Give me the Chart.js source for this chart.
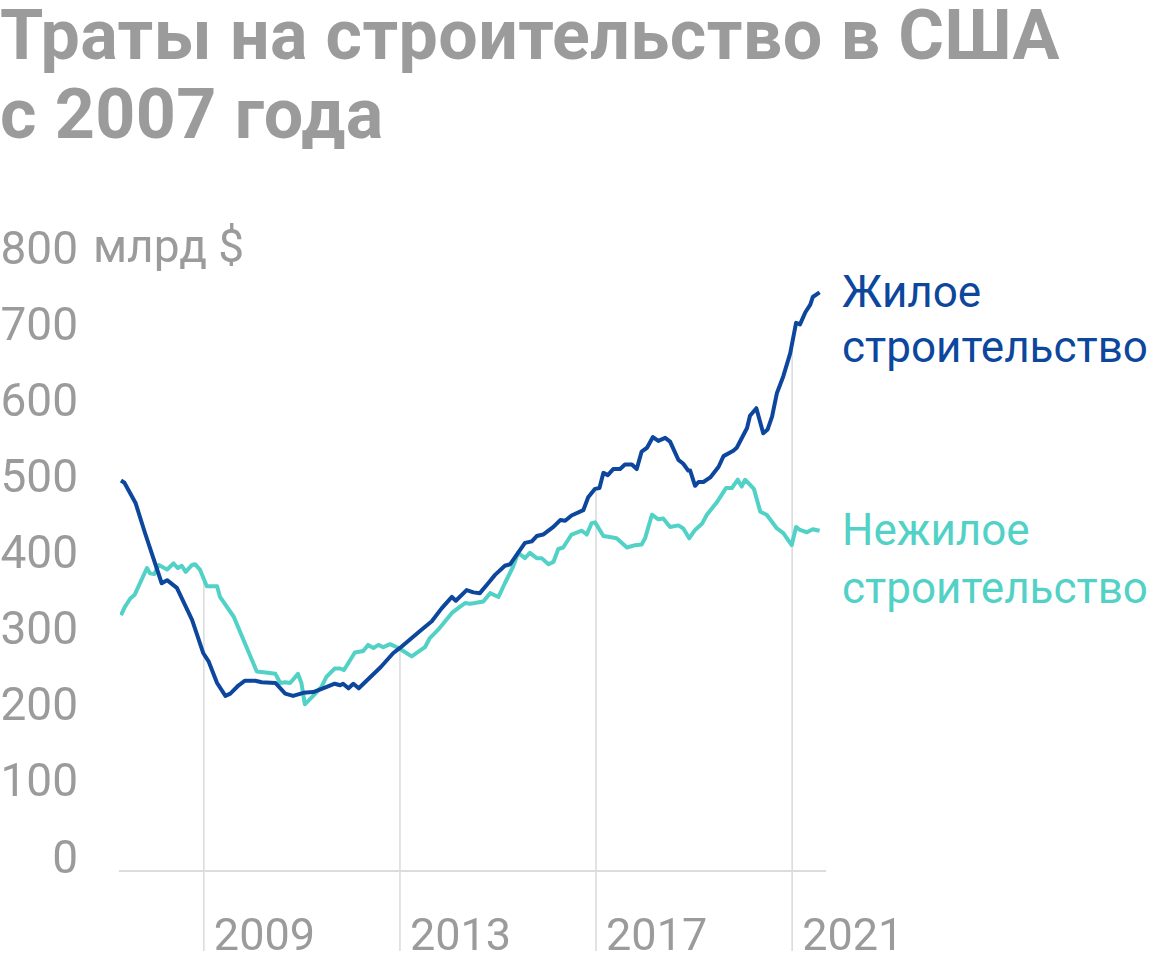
<!DOCTYPE html>
<html lang="ru">
<head>
<meta charset="utf-8">
<script src="https://cdn.jsdelivr.net/npm/chart.js@4.4.1/dist/chart.umd.min.js"></script>
<style>
  html, body { margin: 0; padding: 0; background: #fff; }
  body { width: 1160px; height: 968px; position: relative; overflow: hidden; font-family: Roboto, "Noto Sans", sans-serif; }
  #chart { position: absolute; left: 0; top: 0; }
  .title { position: absolute; left: 0; top: -4px; font-weight: 700; font-size: 70px; line-height: 79px; letter-spacing: 0.4px; color: #9b9b9b; white-space: nowrap; }
  .lbl { position: absolute; left: 842px; font-size: 44px; white-space: nowrap; }
  .res { top: 265px; line-height: 55px; color: #0c479d; }
  .non { top: 501px; line-height: 58px; color: #52d1c6; }
</style>
</head>
<body>
<div class="title">Траты на строительство в США<br>с 2007 года</div>
<div class="lbl res">Жилое<br>строительство</div>
<div class="lbl non">Нежилое<br>строительство</div>
<canvas id="chart" width="1160" height="968"></canvas>
<script>
// ===============================
//  ДАННЫЕ (млрд $, по годам)
// ===============================
const resYears = [2007.31, 2007.38, 2007.61, 2007.80, 2008.14, 2008.25, 2008.45, 2008.76, 2008.99, 2009.10,
  2009.27, 2009.44, 2009.54, 2009.71, 2009.84, 2010.05, 2010.18, 2010.46, 2010.66, 2010.82,
  2011.03, 2011.23, 2011.47, 2011.67, 2011.78, 2011.84, 2011.95, 2012.05, 2012.16, 2012.61,
  2012.86, 2013.00, 2013.44, 2013.65, 2013.85, 2014.06, 2014.14, 2014.36, 2014.50, 2014.63,
  2014.80, 2014.94, 2015.14, 2015.25, 2015.55, 2015.69, 2015.79, 2015.92, 2016.13, 2016.27,
  2016.37, 2016.50, 2016.74, 2016.84, 2016.98, 2017.07, 2017.15, 2017.24, 2017.35, 2017.49,
  2017.59, 2017.73, 2017.83, 2017.93, 2018.04, 2018.16, 2018.27, 2018.41, 2018.51, 2018.68,
  2018.78, 2018.88, 2018.92, 2019.02, 2019.09, 2019.19, 2019.33, 2019.50, 2019.60, 2019.80,
  2019.87, 2020.08, 2020.14, 2020.27, 2020.41, 2020.50, 2020.59, 2020.69, 2020.82, 2020.96,
  2021.08, 2021.16, 2021.27, 2021.37, 2021.42, 2021.56];
const resValues = [513, 510, 483, 444, 378, 382, 372, 330, 286, 275,
  247, 230, 233, 244, 250, 250, 248, 247, 233, 230,
  234, 235, 241, 246, 244, 246, 240, 246, 240, 268,
  286, 293, 317, 328, 345, 360, 355, 369, 366, 365,
  378, 389, 401, 403, 431, 433, 440, 442, 452, 461,
  460, 467, 474, 491, 502, 503, 523, 520, 528, 528,
  534, 534, 528, 551, 556, 570, 565, 569, 564, 540,
  535, 526, 526, 506, 511, 511, 517, 531, 545, 552,
  556, 582, 598, 608, 575, 580, 597, 628, 650, 680,
  720, 718, 734, 744, 754, 760];

const nonYears = [2007.31, 2007.39, 2007.50, 2007.59, 2007.84, 2007.90, 2007.99, 2008.08, 2008.25, 2008.38,
  2008.47, 2008.55, 2008.63, 2008.76, 2008.82, 2008.92, 2009.06, 2009.27, 2009.33, 2009.61,
  2010.08, 2010.22, 2010.46, 2010.56, 2010.66, 2010.76, 2010.92, 2010.99, 2011.06, 2011.23,
  2011.40, 2011.50, 2011.67, 2011.78, 2011.86, 2012.08, 2012.25, 2012.35, 2012.46, 2012.56,
  2012.66, 2012.80, 2012.97, 2013.24, 2013.51, 2013.61, 2013.78, 2014.06, 2014.22, 2014.33,
  2014.43, 2014.53, 2014.70, 2014.84, 2015.01, 2015.14, 2015.31, 2015.41, 2015.55, 2015.65,
  2015.79, 2015.89, 2016.03, 2016.13, 2016.23, 2016.33, 2016.50, 2016.71, 2016.81, 2016.91,
  2016.98, 2017.15, 2017.25, 2017.42, 2017.63, 2017.80, 2017.93, 2018.00, 2018.14, 2018.27,
  2018.37, 2018.51, 2018.68, 2018.78, 2018.90, 2019.02, 2019.16, 2019.26, 2019.46, 2019.65,
  2019.77, 2019.89, 2019.97, 2020.04, 2020.22, 2020.35, 2020.48, 2020.69, 2020.82, 2020.99,
  2021.08, 2021.16, 2021.30, 2021.42, 2021.56];
const nonValues = [336, 347, 358, 363, 398, 391, 390, 402, 396, 404,
  398, 401, 393, 402, 403, 396, 374, 374, 360, 334,
  262, 261, 259, 247, 248, 247, 259, 247, 219, 230,
  242, 255, 266, 266, 264, 287, 289, 297, 293, 297,
  294, 298, 293, 282, 294, 306, 317, 339, 347, 352,
  351, 352, 354, 365, 360, 378, 400, 418, 411, 418,
  411, 411, 403, 406, 423, 425, 442, 447, 442, 457,
  458, 440, 439, 437, 425, 428, 429, 437, 468, 462,
  463, 452, 454, 450, 437, 448, 456, 468, 484, 503,
  503, 514, 505, 514, 502, 472, 468, 450, 444, 428,
  452, 448, 445, 449, 447];

const xTicks = [2009, 2013, 2017, 2021];
const yTicks = [0, 100, 200, 300, 400, 500, 600, 700, 800];

const resData = resYears.map((x, i) => ({ x, y: resValues[i] }));
const nonData = nonYears.map((x, i) => ({ x, y: nonValues[i] }));

const GRAY = "#9b9b9b";
const RULE = "#dcdcdc";

// ===============================
//  ВЕРТИКАЛЬНЫЕ ЛИНИИ ОТ ВЕРХНЕЙ КРИВОЙ
// ===============================
const dropLines = {
  id: "dropLines",
  beforeDatasetsDraw(chart) {
    const { ctx, scales: { x } } = chart;
    ctx.save();
    ctx.strokeStyle = RULE;
    ctx.lineWidth = 1.6;
    xTicks.forEach(t => {
      const px = x.getPixelForValue(t);
      let top = chart.chartArea.bottom;
      chart.data.datasets.forEach((ds, di) => {
        const pts = chart.getDatasetMeta(di).data;
        for (let i = 1; i < pts.length; i++) {
          if (pts[i - 1].x <= px && pts[i].x >= px) {
            const k = (px - pts[i - 1].x) / (pts[i].x - pts[i - 1].x || 1);
            top = Math.min(top, pts[i - 1].y + k * (pts[i].y - pts[i - 1].y));
            break;
          }
        }
      });
      ctx.beginPath();
      ctx.moveTo(px, top + 2);
      ctx.lineTo(px, 951);
      ctx.stroke();
    });
    ctx.restore();
  }
};

// подпись единиц у верхней метки
const unitLabel = {
  id: "unitLabel",
  afterDraw(chart) {
    const { ctx, scales: { y } } = chart;
    ctx.save();
    ctx.font = "46px Roboto";
    ctx.fillStyle = GRAY;
    ctx.textAlign = "left";
    ctx.textBaseline = "alphabetic";
    ctx.fillText("млрд $", 93, y.getPixelForValue(800));
    ctx.restore();
  }
};

new Chart(document.getElementById("chart"), {
  type: "line",
  data: {
    datasets: [{
      label: "Жилое строительство",
      data: resData,
      borderColor: "#0c479d",
      borderWidth: 4,
      pointRadius: 0,
      tension: 0,
      borderJoinStyle: "round",
      order: 0
    }, {
      label: "Нежилое строительство",
      data: nonData,
      borderColor: "#52d1c6",
      borderWidth: 4,
      pointRadius: 0,
      tension: 0,
      borderJoinStyle: "round",
      order: 1
    }]
  },
  options: {
    responsive: false,
    animation: false,
    layout: { padding: { left: 0, right: 335, top: 262, bottom: 0 } },
    plugins: { legend: { display: false }, tooltip: { enabled: false } },
    scales: {
      x: {
        type: "linear",
        min: 2007.29,
        max: 2021.67,
        afterBuildTicks: s => { s.ticks = xTicks.map(v => ({ value: v })); },
        afterFit: s => { s.height = 97; },
        grid: { display: false, drawTicks: false },
        border: { display: true, color: RULE, width: 2 },
        ticks: {
          align: "start",
          labelOffset: 10,
          padding: 41,
          maxRotation: 0,
          autoSkip: false,
          color: GRAY,
          font: { family: "Roboto", size: 45 },
          callback: v => String(v)
        }
      },
      y: {
        min: 0,
        max: 800,
        afterBuildTicks: s => { s.ticks = yTicks.map(v => ({ value: v })); },
        afterFit: s => { s.width = 120; },
        grid: { display: false, drawTicks: false },
        border: { display: false },
        ticks: {
          padding: 42,
          labelOffset: -10,
          color: GRAY,
          font: { family: "Roboto", size: 46 },
          callback: v => String(v)
        }
      }
    }
  },
  plugins: [dropLines, unitLabel]
});
</script>
</body>
</html>
